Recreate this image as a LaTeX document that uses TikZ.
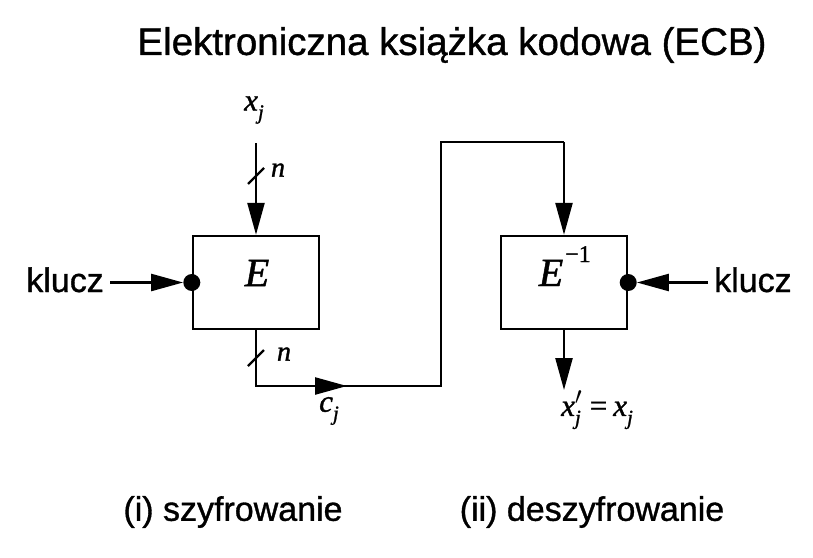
\documentclass[tikz,border=0pt]{standalone}
\usepackage{fontspec}
\setmainfont{Liberation Sans}[FakeBold=1.0]
\newfontfamily\tms{Liberation Serif}[FakeBold=1.2]
\usetikzlibrary{arrows.meta}
\newcommand\subj{\raisebox{-0.28em}{\fontsize{21}{21}\selectfont j}}
\newcommand\primej{\rlap{\raisebox{0.36em}{\fontsize{23}{23}\selectfont$\prime$}}\subj}
\begin{document}
\begin{tikzpicture}[x=1pt,y=-1pt,
  wire/.style={line width=2.4pt},
  arr/.style={wire,-{Triangle[length=32pt,width=17pt]}},
  blk/.style={draw,line width=2.4pt,minimum width=126pt,minimum height=93pt,inner sep=0pt},
  keydot/.style={circle,fill,inner sep=0pt,minimum size=17pt},
  lbl/.style={font=\fontsize{34}{40}\selectfont,inner sep=0pt},
  ttl/.style={font=\fontsize{38.5}{44}\selectfont,inner sep=0pt},
  mth/.style={font=\tms\itshape\fontsize{31}{36}\selectfont,inner sep=0pt},
  nlbl/.style={font=\tms\itshape\fontsize{28}{32}\selectfont,inner sep=0pt},
  bigm/.style={font=\tms\itshape\fontsize{40}{46}\selectfont,inner sep=0pt},
  ]
\useasboundingbox (0,0) rectangle (813,557);
\node[ttl] (title) at (452,45) {Elektroniczna książka kodowa (ECB)};
% encryption block
\node[blk] (E) at (256,282.5) {};
\node[bigm] (Et) at (257,273) {E};
\node[keydot] (d1) at (E.west) {};
\node[lbl,anchor=base east] (k1) at (104,292) {klucz};
\draw[arr,shorten <=6pt] (k1.east |- d1) -- (d1);
% input
\node[mth] (xj) at (254,110) {x\subj};
\coordinate (xin) at (256,143);
\draw[arr] (xin) -- (E.north);
\coordinate (s1) at (256,176);
\draw[wire] ([shift={(-8,8)}]s1) -- ([shift={(8,-8)}]s1);
\node[nlbl] (n1) at (278,170) {n};
% output of E to decryption
\coordinate (c1) at (256,386);
\coordinate (cm) at (347,386);
\coordinate (c2) at (441,386);
\coordinate (c3) at (441,142);
\coordinate (c4) at (564,142);
\node[blk] (D) at (564,282.5) {};
\draw[wire] (E.south) -- (c1) -- (c2) -- (c3) -- (c4);
\draw[arr] (c1) -- (cm);
\draw[arr] (c4) -- (D.north);
\coordinate (s2) at (256,358);
\draw[wire] ([shift={(-8,8)}]s2) -- ([shift={(8,-8)}]s2);
\node[nlbl] (n2) at (284,354) {n};
\node[mth] (cj) at (329,411) {c\subj};
% decryption block
\node[bigm,anchor=base] (Dt) at (551,286) {E};
\node[inner sep=0pt,font=\tms\fontsize{24}{28}\selectfont,anchor=base west] (Dsup) at (565,262) {−1};
\node[keydot] (d2) at (D.east) {};
\node[lbl,anchor=base west] (k2) at (714,292) {klucz};
\draw[arr,shorten <=6pt] (k2.west |- d2) -- (d2);
\coordinate (xo) at (564,390);
\draw[arr] (D.south) -- (xo);
\node[mth,anchor=west] (xout) at (561,410) {x\primej\hspace{9pt}{\upshape =}\hspace{6pt}x\subj};
% captions
\node[lbl] (cap1) at (233,512) {(i) szyfrowanie};
\node[lbl] (cap2) at (592,512) {(ii) deszyfrowanie};
\end{tikzpicture}
\end{document}
